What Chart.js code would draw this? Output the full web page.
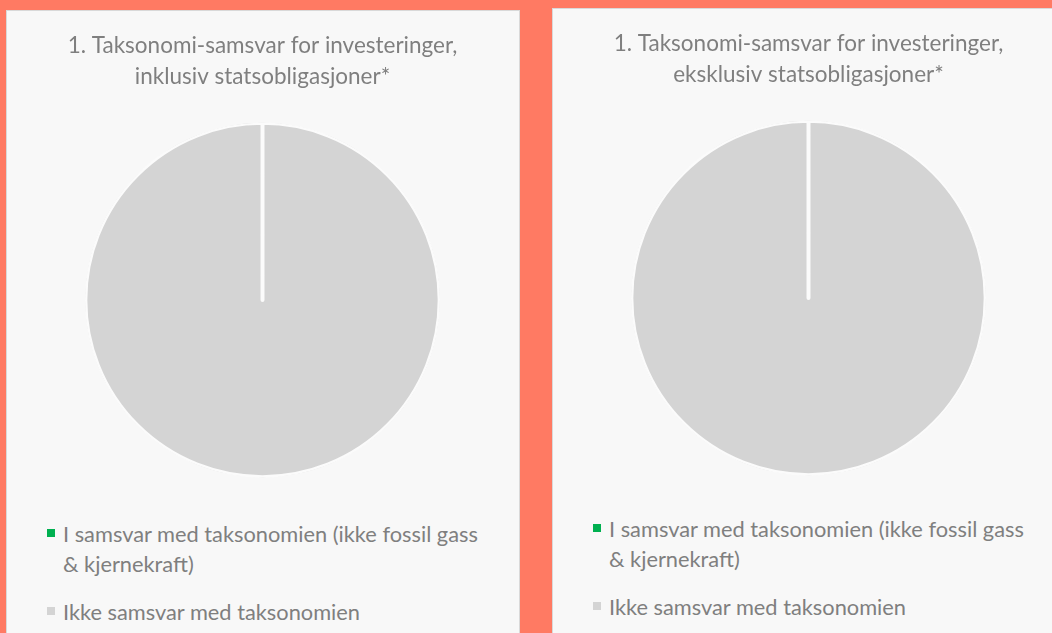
<!DOCTYPE html>
<html>
<head>
<meta charset="utf-8">
<script src="https://cdn.jsdelivr.net/npm/chart.js@4"></script>
<style>
  html, body { margin: 0; padding: 0; }
  body { width: 1052px; height: 633px; background: #ff7a63; position: relative; overflow: hidden; font-family: Lato, 'Open Sans', sans-serif; }
  .panel { position: absolute; width: 514px; height: 660px; box-sizing: border-box; background: #f8f8f8; border: 1.5px solid #d9d9d9; }
  .panel canvas { position: absolute; left: 0; top: 0; }
  .legend { position: absolute; left: 39.5px; color: #7f7f7f; font-size: 21.8px; line-height: 30px; }
  .legend .item { position: relative; padding-left: 16.5px; margin-bottom: 18px; white-space: nowrap; }
  .legend .box { position: absolute; left: 0; top: 10px; width: 8px; height: 8px; }
</style>
</head>
<body>
<div class="panel" id="panelIncl" style="left:6px; top:10px;">
  <canvas id="chartIncl" width="511" height="480"></canvas>
  <div class="legend" id="legendIncl" style="top:507.5px;"></div>
</div>
<div class="panel" id="panelExcl" style="left:552px; top:8px;">
  <canvas id="chartExcl" width="511" height="480"></canvas>
  <div class="legend" id="legendExcl" style="top:504.5px;"></div>
</div>
<script>
const categories = [
  ['I samsvar med taksonomien (ikke fossil gass', '& kjernekraft)'],
  'Ikke samsvar med taksonomien'
];
const inklusivValues = [0, 100];
const eksklusivValues = [0, 100];
const titleIncl = ['1. Taksonomi-samsvar for investeringer,', 'inklusiv statsobligasjoner*'];
const titleExcl = ['1. Taksonomi-samsvar for investeringer,', 'eksklusiv statsobligasjoner*'];
const sliceColors = ['#00b050', '#d4d4d4'];

function makeChart(canvasId, legendId, title, values) {
    const chart = new Chart(document.getElementById(canvasId), {
        type: 'pie',
        data: {
            labels: categories,
            datasets: [{
                data: values,
                backgroundColor: sliceColors,
                borderColor: '#fbfbfb',
                borderWidth: 2,
                borderAlign: 'inner',
                radius: 177.5,
            }],
        },
        options: {
            responsive: false,
            animation: false,
            layout: { padding: 0 },
            plugins: {
                legend: { display: false },
                tooltip: { enabled: false },
                title: {
                    display: true,
                    text: title,
                    color: '#7f7f7f',
                    font: { family: 'Lato', size: 22.5, weight: 'normal', lineHeight: '31px' },
                    padding: { top: 19, bottom: 17 },
                },
            },
        },
    });

    // legend as html so the first label can wrap onto two lines
    const legend = document.getElementById(legendId);
    legend.innerHTML = chart.data.labels.map((label, i) => {
        const text = Array.isArray(label) ? label.join('<br>') : label;
        return `<div class="item"><span class="box" style="background:${sliceColors[i]}"></span>${text}</div>`;
    }).join('');
    return chart;
}

makeChart('chartIncl', 'legendIncl', titleIncl, inklusivValues);
makeChart('chartExcl', 'legendExcl', titleExcl, eksklusivValues);
</script>
</body>
</html>
